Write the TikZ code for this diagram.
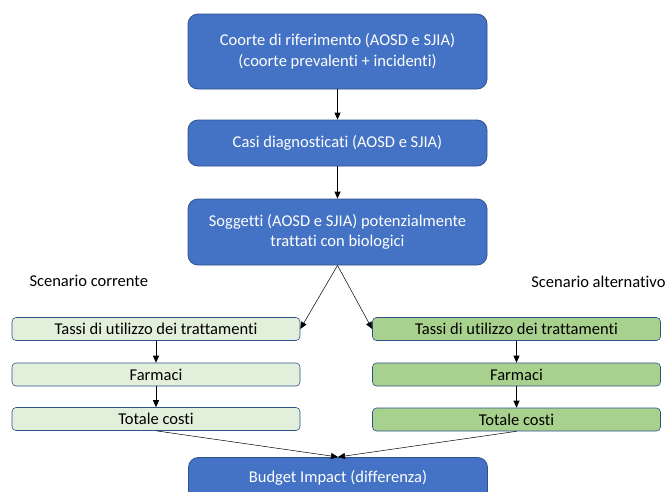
\documentclass[tikz,border=0pt]{standalone}
\usepackage{fontspec}
\setmainfont{Carlito}[Ligatures=NoCommon]
\usetikzlibrary{arrows.meta}
\definecolor{boxblue}{HTML}{4472C4}
\definecolor{edgeblue}{HTML}{2F528F}
\definecolor{greenlight}{HTML}{E2EFDA}
\definecolor{greendark}{HTML}{A9D18E}

\begin{document}
\begin{tikzpicture}[x=1pt, y=-1pt,
  every node/.style={font=\fontsize{16.5}{20.5}\selectfont},
  bluebox/.style={draw=edgeblue, fill=boxblue, text=white, rounded corners=10pt, minimum width=299pt, align=center, line width=0.8pt},
  greenbox/.style={draw=edgeblue, rounded corners=4pt, minimum width=288pt, minimum height=23pt, inner sep=0pt, line width=0.6pt},
  arr/.style={-{Triangle[length=7pt,width=6pt]}, line width=0.8pt},
  thinarr/.style={-{Triangle[length=7pt,width=6pt]}, line width=0.5pt}]
  \clip (0,0) rectangle (667,491);
  \fill[white] (0,0) rectangle (667,491);
  % blue chain
  \node[bluebox, minimum height=75pt] (coorte) at (337.5,51.5) {Coorte di riferimento (AOSD e SJIA)\\(coorte prevalenti + incidenti)};
  \node[bluebox, minimum height=46pt] (casi) at (337.5,143) {Casi diagnosticati (AOSD e SJIA)};
  \node[bluebox, minimum height=66pt] (soggetti) at (337.5,232) {Soggetti (AOSD e SJIA) potenzialmente\\trattati con biologici};
  \node[bluebox, minimum height=60pt, anchor=north] (budget) at (338,457) {};
  \node[text=white, anchor=center] (budgettxt) at (338,478) {Budget Impact (differenza)};
  % scenario labels
  \node[anchor=west] (corrente) at (26,281) {Scenario corrente};
  \node[anchor=east] (alternativo) at (669,282) {Scenario alternativo};
  % current scenario
  \node[greenbox, fill=greenlight] (tassiA) at (156,329) {Tassi di utilizzo dei trattamenti};
  \node[greenbox, fill=greenlight] (farmA) at (156,374.5) {Farmaci};
  \node[greenbox, fill=greenlight] (totA) at (156,419) {Totale costi};
  % alternative scenario
  \node[greenbox, fill=greendark] (tassiB) at (516.5,329) {Tassi di utilizzo dei trattamenti};
  \node[greenbox, fill=greendark] (farmB) at (516.5,374.5) {Farmaci};
  \node[greenbox, fill=greendark] (totB) at (516.5,419.5) {Totale costi};
  % connectors
  \draw[arr] (coorte) -- (casi);
  \draw[arr] (casi) -- (soggetti);
  \draw[thinarr] (soggetti.south) -- (tassiA.east);
  \draw[thinarr] (soggetti.south) -- (tassiB.west);
  \draw[arr] (tassiA) -- (farmA);
  \draw[arr] (farmA) -- (totA);
  \draw[arr] (tassiB) -- (farmB);
  \draw[arr] (farmB) -- (totB);
  \draw[thinarr] (totA.south) -- (budget.north);
  \draw[thinarr] (totB.south) -- (budget.north);
\end{tikzpicture}
\end{document}
